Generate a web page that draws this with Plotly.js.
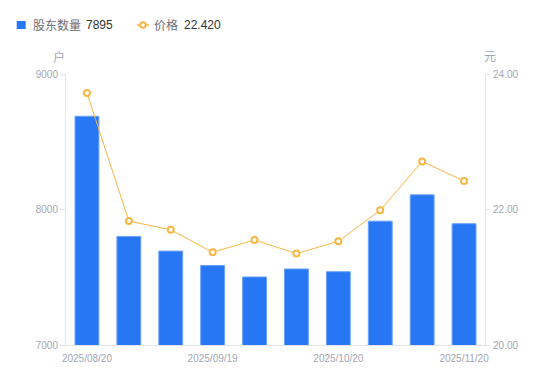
<!DOCTYPE html>
<html>
<head>
<meta charset="utf-8">
<script src="https://cdn.plot.ly/plotly-3.0.1.min.js"></script>
<style>html,body{margin:0;padding:0;background:#fff;}#chart{width:550px;height:381px;}</style>
</head>
<body>
<div id="chart"></div>
<script>
// Data
const periods = [0, 1, 2, 3, 4, 5, 6, 7, 8, 9];
const holders = [8688, 7801, 7693, 7587, 7502, 7561, 7541, 7914, 8108, 7895];
const prices = [23.72, 21.83, 21.70, 21.37, 21.55, 21.35, 21.53, 21.99, 22.71, 22.42];
const tickLabels = ['2025/08/20', '2025/09/19', '2025/10/20', '2025/11/20'];
const tickPositions = [0, 3, 6, 9];
const holdersName = '股东数量';
const priceName = '价格';
const holdersUnit = '户';
const priceUnit = '元';
const lastHolders = '7895';
const lastPrice = '22.420';

const font = 'Liberation Sans, Noto Sans CJK SC, sans-serif';
const axisGray = '#a3a6b4';
const lineGray = '#e3e4e8';
const blue = '#2777f5';
const orange = '#f8b643';

const traces = [
  {
    type: 'bar', x: periods, y: holders, name: holdersName,
    marker: {color: blue, line: {color: '#6aa2f8', width: 1}},
    width: 0.57, yaxis: 'y'
  },
  {
    type: 'scatter', mode: 'lines+markers', x: periods, y: prices, name: priceName,
    line: {color: orange, width: 1},
    marker: {symbol: 'circle', size: 6, color: '#ffffff', line: {color: orange, width: 2}},
    yaxis: 'y2'
  }
];

function legendText(text, px, color) {
  return {text: text, xref: 'paper', yref: 'paper', x: 0, y: 1, xshift: px - 66 - 1, yshift: 49,
    xanchor: 'left', yanchor: 'middle', showarrow: false,
    font: {size: 12, color: color, family: font}};
}

const layout = {
  width: 550, height: 381,
  margin: {l: 66, r: 65, t: 74, b: 36},
  paper_bgcolor: '#fff', plot_bgcolor: '#fff',
  font: {family: font, size: 10, color: axisGray},
  showlegend: false,
  xaxis: {
    type: 'linear', range: [-0.5, 9.5], showgrid: false, zeroline: false,
    showline: true, linecolor: lineGray, linewidth: 1,
    tickvals: tickPositions, ticktext: tickLabels, ticks: '', ticklabelstandoff: 4,
    tickfont: {size: 10, color: axisGray}
  },
  yaxis: {
    range: [7000, 9000], tickvals: [7000, 8000, 9000], showgrid: false, zeroline: false,
    showline: true, linecolor: lineGray, linewidth: 1,
    ticks: 'outside', ticklen: 5, tickcolor: lineGray,
    tickfont: {size: 10, color: axisGray}
  },
  yaxis2: {
    overlaying: 'y', side: 'right', range: [20, 24], tickvals: [20, 22, 24], tickformat: '.2f',
    showgrid: false, zeroline: false, showline: true, linecolor: lineGray, linewidth: 1,
    ticks: 'outside', ticklen: 5, tickcolor: lineGray,
    tickfont: {size: 10, color: axisGray}
  },
  shapes: [
    {type: 'rect', xref: 'paper', yref: 'paper', xsizemode: 'pixel', ysizemode: 'pixel',
     xanchor: 0, yanchor: 1, x0: 16.7 - 66, x1: 25.7 - 66, y0: 74 - 29, y1: 74 - 21,
     fillcolor: blue, line: {width: 0}},
    {type: 'line', xref: 'paper', yref: 'paper', xsizemode: 'pixel', ysizemode: 'pixel',
     xanchor: 0, yanchor: 1, x0: 137 - 66, x1: 149 - 66, y0: 74 - 25, y1: 74 - 25,
     line: {color: orange, width: 1.5}},
    {type: 'circle', xref: 'paper', yref: 'paper', xsizemode: 'pixel', ysizemode: 'pixel',
     xanchor: 0, yanchor: 1, x0: 143 - 66 - 2.8, x1: 143 - 66 + 2.8, y0: 74 - 25 - 2.8, y1: 74 - 25 + 2.8,
     fillcolor: '#fff', line: {color: orange, width: 2}}
  ],
  annotations: [
    legendText(holdersName, 31.7, '#6b6e78'),
    legendText(lastHolders, 85, '#333333'),
    legendText(priceName, 153, '#6b6e78'),
    legendText(lastPrice, 182.7, '#333333'),
    {text: holdersUnit, xref: 'paper', yref: 'paper', x: 0, y: 1, xshift: -7, yshift: 17, showarrow: false,
     font: {size: 12, color: axisGray, family: font}, xanchor: 'center', yanchor: 'middle'},
    {text: priceUnit, xref: 'paper', yref: 'paper', x: 1, y: 1, xshift: 5, yshift: 17, showarrow: false,
     font: {size: 12, color: axisGray, family: font}, xanchor: 'center', yanchor: 'middle'}
  ]
};

Plotly.newPlot('chart', traces, layout, {displayModeBar: false, staticPlot: true});
</script>
</body>
</html>
